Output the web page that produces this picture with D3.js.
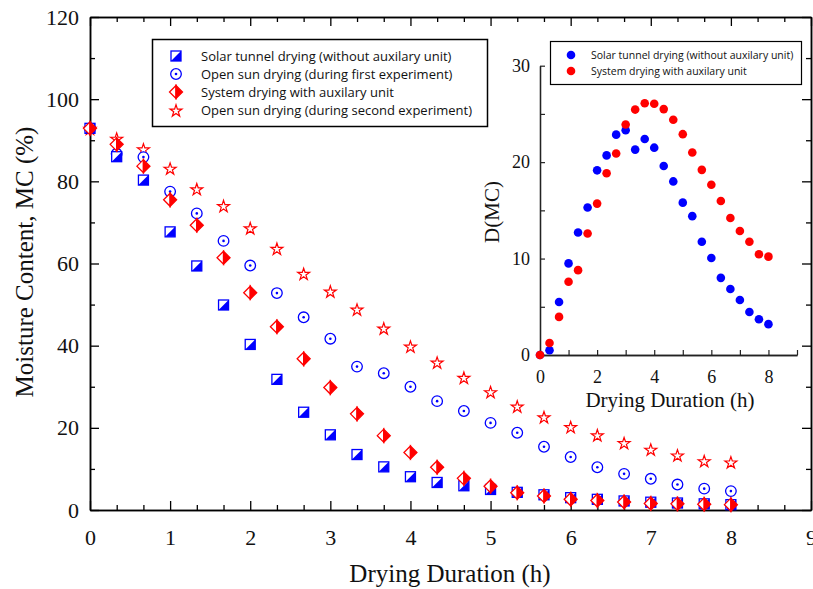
<!DOCTYPE html>
<html>
<head>
<meta charset="utf-8">
<script src="https://d3js.org/d3.v7.min.js"></script>
<style>
  body { margin: 0; background: #fff; }
  svg { display: block; }
</style>
</head>
<body>
<svg id="chart" width="813" height="589"></svg>
<script>
  // sampling times (h), every 20 min
  const hours = [0, 0.333, 0.667, 1, 1.333, 1.667, 2, 2.333, 2.667, 3, 3.333, 3.667, 4,
    4.333, 4.667, 5, 5.333, 5.667, 6, 6.333, 6.667, 7, 7.333, 7.667, 8];

  // moisture content (%)
  const solarTunnel = [92.9, 86.0, 80.3, 67.7, 59.4, 49.9, 40.3, 31.8, 23.8, 18.3, 13.5, 10.5, 8.1,
    6.7, 5.9, 5.0, 4.3, 3.7, 3.0, 2.6, 2.2, 1.9, 1.7, 1.5, 1.3];
  const openSunFirst = [92.9, 86.7, 85.9, 77.5, 72.2, 65.5, 59.5, 52.8, 46.9, 41.7, 34.9, 33.3, 30.0,
    26.5, 24.1, 21.2, 18.8, 15.4, 12.9, 10.4, 8.8, 7.6, 6.2, 5.2, 4.6];
  const systemAux = [92.9, 89.0, 83.7, 75.5, 69.3, 61.4, 52.9, 44.6, 36.8, 29.8, 23.4, 18.1, 14.0,
    10.4, 7.7, 5.8, 4.2, 3.4, 2.6, 2.3, 1.95, 1.6, 1.5, 1.4, 1.3];
  const openSunSecond = [92.9, 90.5, 87.9, 83.2, 78.2, 74.1, 68.7, 63.7, 57.6, 53.3, 48.9, 44.3, 39.9,
    36.0, 32.3, 28.8, 25.3, 22.7, 20.3, 18.3, 16.4, 14.8, 13.4, 12.0, 11.7];

  // inset: D(MC)
  const dSolarTunnel = [0, 0.5, 5.5, 9.5, 12.7, 15.3, 19.15, 20.7, 22.85, 23.3, 21.3, 22.4, 21.5,
    19.6, 18.0, 15.8, 14.4, 11.75, 10.06, 8.0, 6.85, 5.7, 4.46, 3.7, 3.2];
  const dSystemAux = [0, 1.25, 3.95, 7.6, 8.8, 12.6, 15.7, 18.85, 20.9, 23.9, 25.45, 26.1, 26.05,
    25.5, 24.4, 22.9, 21.0, 19.2, 17.65, 15.97, 14.2, 12.86, 11.75, 10.44, 10.2];

  const mainXTicks = [0, 1, 2, 3, 4, 5, 6, 7, 8, 9];
  const mainYTicks = [0, 20, 40, 60, 80, 100, 120];
  const insetXTicks = [0, 2, 4, 6, 8];
  const insetYTicks = [0, 10, 20, 30];

  const seriesNames = [
    "Solar tunnel drying (without auxilary unit)",
    "Open sun drying (during first experiment)",
    "System drying with auxilary unit",
    "Open sun drying (during second experiment)"
  ];
  const insetNames = [
    "Solar tunnel drying (without auxilary unit)",
    "System drying with auxilary unit"
  ];

  const blue = "#0000ff";
  const red = "#ff0000";
  const serif = "'Liberation Serif', 'Times New Roman', serif";
  const sans = "'Open Sans', 'Noto Sans', sans-serif";

  const svg = d3.select("#chart");

  // ---- main plot ----
  const x = d3.scaleLinear().domain([0, 9]).range([90, 811]);
  const y = d3.scaleLinear().domain([0, 120]).range([510, 17]);

  const minorX = d3.range(0, 27).map(i => i / 3).filter(v => v % 1 > 0.01 && v % 1 < 0.99);
  const minorY = [10, 30, 50, 70, 90, 110];

  function styleAxis(g) {
    g.selectAll(".domain").attr("stroke", "#000").attr("stroke-width", 1.5);
    g.selectAll(".tick line").attr("stroke", "#000").attr("stroke-width", 1.3);
    g.selectAll("text").attr("fill", "#111").style("font-family", serif);
  }

  // bottom
  svg.append("g").attr("transform", "translate(0,510)")
    .call(d3.axisBottom(x).tickValues(mainXTicks).tickFormat(d3.format("d"))
      .tickSize(-9).tickSizeOuter(0).tickPadding(19))
    .call(styleAxis)
    .selectAll("text").style("font-size", "22px");
  svg.append("g").attr("transform", "translate(0,510)")
    .call(d3.axisBottom(x).tickValues(minorX).tickFormat("").tickSize(-5).tickSizeOuter(0))
    .call(styleAxis);
  // top
  svg.append("g").attr("transform", "translate(0,17)")
    .call(d3.axisTop(x).tickValues(mainXTicks).tickFormat("").tickSize(-9).tickSizeOuter(0))
    .call(styleAxis);
  svg.append("g").attr("transform", "translate(0,17)")
    .call(d3.axisTop(x).tickValues(minorX).tickFormat("").tickSize(-5).tickSizeOuter(0))
    .call(styleAxis);
  // left
  svg.append("g").attr("transform", "translate(90,0)")
    .call(d3.axisLeft(y).tickValues(mainYTicks).tickFormat(d3.format("d"))
      .tickSize(-9).tickSizeOuter(0).tickPadding(11))
    .call(styleAxis)
    .selectAll("text").style("font-size", "22px");
  svg.append("g").attr("transform", "translate(90,0)")
    .call(d3.axisLeft(y).tickValues(minorY).tickFormat("").tickSize(-5).tickSizeOuter(0))
    .call(styleAxis);
  // right
  svg.append("g").attr("transform", "translate(811,0)")
    .call(d3.axisRight(y).tickValues(mainYTicks).tickFormat("").tickSize(-9).tickSizeOuter(0))
    .call(styleAxis);
  svg.append("g").attr("transform", "translate(811,0)")
    .call(d3.axisRight(y).tickValues(minorY).tickFormat("").tickSize(-5).tickSizeOuter(0))
    .call(styleAxis);

  svg.append("text")
    .attr("transform", "translate(33,262) rotate(-90)")
    .attr("text-anchor", "middle")
    .style("font-family", serif).style("font-size", "25px").attr("fill", "#111")
    .text("Moisture Content, MC (%)");
  svg.append("text")
    .attr("x", 450).attr("y", 582)
    .attr("text-anchor", "middle")
    .style("font-family", serif).style("font-size", "25px").attr("fill", "#111")
    .text("Drying Duration (h)");

  // marker painters
  function squareMark(g) {
    g.append("rect").attr("x", -5).attr("y", -5).attr("width", 10).attr("height", 10)
      .attr("fill", "#fff").attr("stroke", blue).attr("stroke-width", 1.3);
    g.append("path").attr("d", "M5,-5L5,5L-5,5Z").attr("fill", blue);
  }
  function circleMark(g) {
    g.append("circle").attr("r", 5.3).attr("fill", "#fff")
      .attr("stroke", blue).attr("stroke-width", 1.3);
    g.append("circle").attr("r", 1.3).attr("fill", blue);
  }
  function diamondMark(g) {
    g.append("path").attr("d", "M0,-6.5L-6.5,0L0,6.5Z")
      .attr("fill", "#fff").attr("stroke", red).attr("stroke-width", 1.3).attr("stroke-linejoin", "miter");
    g.append("path").attr("d", "M0,-6.5L6.5,0L0,6.5Z")
      .attr("fill", red).attr("stroke", red).attr("stroke-width", 1.3);
  }
  const starPath = d3.symbol().type(d3.symbolStar).size(44)();
  function starMark(g) {
    g.append("path").attr("d", starPath).attr("fill", "#fff")
      .attr("stroke", red).attr("stroke-width", 1.2).attr("transform", "translate(0,1)");
  }

  const mainSeries = [
    { values: solarTunnel, mark: squareMark },
    { values: openSunFirst, mark: circleMark },
    { values: systemAux, mark: diamondMark },
    { values: openSunSecond, mark: starMark }
  ];

  // paint order: stars and circles under, squares then diamonds on top
  [3, 1, 0, 2].forEach(k => {
    const s = mainSeries[k];
    svg.append("g").selectAll("g")
      .data(hours.map((h, i) => [h, s.values[i]]))
      .join("g")
      .attr("transform", d => `translate(${x(d[0])},${y(d[1])})`)
      .each(function () { s.mark(d3.select(this)); });
  });

  // main legend
  const leg = svg.append("g");
  leg.append("rect").attr("x", 152.5).attr("y", 39.5).attr("width", 335).attr("height", 87)
    .attr("fill", "#fff").attr("stroke", "#000").attr("stroke-width", 1.5);
  mainSeries.forEach((s, i) => {
    const ly = 56 + i * 18;
    const mg = leg.append("g").attr("transform", `translate(176,${ly})`);
    s.mark(mg);
    leg.append("text").attr("x", 201).attr("y", ly).attr("dy", "0.35em")
      .style("font-family", sans).style("font-size", "13px").attr("fill", "#111")
      .text(seriesNames[i]);
  });

  // ---- inset ----
  const ix = d3.scaleLinear().domain([0, 9]).range([540, 797]);
  const iy = d3.scaleLinear().domain([0, 30]).range([355, 65.7]);

  function styleInset(g) {
    g.selectAll(".domain").attr("stroke", "#222").attr("stroke-width", 1.3);
    g.selectAll(".tick line").attr("stroke", "#222").attr("stroke-width", 1.2);
    g.selectAll("text").attr("fill", "#111").style("font-family", serif).style("font-size", "18px");
  }
  svg.append("g").attr("transform", "translate(0,355)")
    .call(d3.axisBottom(ix).tickValues(insetXTicks).tickFormat(d3.format("d"))
      .tickSize(-5).tickSizeOuter(0).tickPadding(15))
    .call(styleInset);
  svg.append("g").attr("transform", "translate(0,355)")
    .call(d3.axisBottom(ix).tickValues([1, 3, 5, 7, 9]).tickFormat("").tickSize(-5).tickSizeOuter(0))
    .call(styleInset);
  svg.append("g").attr("transform", "translate(540,0)")
    .call(d3.axisLeft(iy).tickValues(insetYTicks).tickFormat(d3.format("d"))
      .tickSize(-5).tickSizeOuter(0).tickPadding(10))
    .call(styleInset);
  svg.append("g").attr("transform", "translate(540,0)")
    .call(d3.axisLeft(iy).tickValues([5, 15, 25]).tickFormat("").tickSize(-5).tickSizeOuter(0))
    .call(styleInset);

  svg.append("text")
    .attr("transform", "translate(499,212) rotate(-90)")
    .attr("text-anchor", "middle")
    .style("font-family", serif).style("font-size", "21px").attr("fill", "#111")
    .text("D(MC)");
  svg.append("text")
    .attr("x", 670).attr("y", 407)
    .attr("text-anchor", "middle")
    .style("font-family", serif).style("font-size", "21px").attr("fill", "#111")
    .text("Drying Duration (h)");

  const insetSeries = [
    { values: dSolarTunnel, color: blue },
    { values: dSystemAux, color: red }
  ];
  insetSeries.forEach(s => {
    svg.append("g").selectAll("circle")
      .data(hours.map((h, i) => [h, s.values[i]]))
      .join("circle")
      .attr("cx", d => ix(d[0]))
      .attr("cy", d => iy(d[1]))
      .attr("r", 4.3)
      .attr("fill", s.color);
  });

  const ileg = svg.append("g");
  ileg.append("rect").attr("x", 550.5).attr("y", 41.5).attr("width", 251).attr("height", 43)
    .attr("fill", "#fff").attr("stroke", "#000").attr("stroke-width", 1.2);
  insetSeries.forEach((s, i) => {
    const ly = 55 + i * 16;
    ileg.append("circle").attr("cx", 571).attr("cy", ly).attr("r", 4.3).attr("fill", s.color);
    ileg.append("text").attr("x", 591).attr("y", ly).attr("dy", "0.35em")
      .style("font-family", sans).style("font-size", "10.5px").attr("fill", "#111")
      .text(insetNames[i]);
  });
</script>
</body>
</html>
